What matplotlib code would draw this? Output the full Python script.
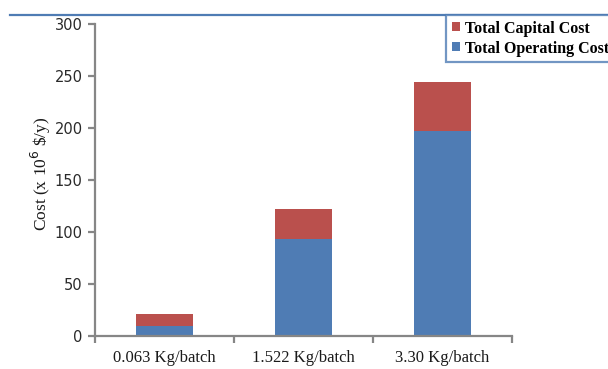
import matplotlib.pyplot as plt
from matplotlib.lines import Line2D

# cost breakdown per batch size (x 10^6 $/y)
batches = ["0.063 Kg/batch", "1.522 Kg/batch", "3.30 Kg/batch"]
operating_cost = [10, 93, 197]
capital_cost = [11, 29, 47]

blue = "#4F7CB4"
red = "#BA504D"
axis_grey = "#868686"
serif = ["Liberation Serif", "DejaVu Serif"]

fig = plt.figure(figsize=(6.08, 3.69), dpi=100)
ax = fig.add_axes([95 / 608, 1 - 336 / 369, 417 / 608, 312 / 369])

x = range(len(batches))
ax.bar(x, operating_cost, width=0.41, color=blue, label="Total Operating Cost", zorder=2)
ax.bar(x, capital_cost, width=0.41, bottom=operating_cost, color=red,
       label="Total Capital Cost", zorder=2)

ax.set_xlim(-0.5, len(batches) - 0.5)
ax.set_ylim(0, 300)
ax.set_yticks(range(0, 301, 50))
ax.set_xticks(list(x))
ax.set_xticklabels(batches, fontsize=12, family=serif, color="#1a1a1a")
ax.set_xticks([i - 0.5 for i in range(len(batches) + 1)], minor=True)

for side in ("top", "right"):
    ax.spines[side].set_visible(False)
for side in ("left", "bottom"):
    ax.spines[side].set_color(axis_grey)
    ax.spines[side].set_linewidth(1.6)

ax.tick_params(axis="x", which="major", length=0, pad=10)
ax.tick_params(axis="x", which="minor", length=5, width=1.6, color=axis_grey, direction="out")
ax.tick_params(axis="y", length=5, width=1.6, color=axis_grey, direction="out",
               labelsize=10.5, labelcolor="#2a2a2a", pad=4)

fig.text(41 / 608, 1 - 174 / 369, r"Cost (x 10$^6$ \$/y)", rotation=90,
         ha="center", va="center", fontsize=12.5, family=serif, color="#1a1a1a")

# rule across the top of the chart area
fig.add_artist(Line2D([10 / 608, 1], [1 - 15 / 369, 1 - 15 / 369],
                      transform=fig.transFigure, color=blue, lw=1.6))

handles, labels = ax.get_legend_handles_labels()
leg = fig.legend(handles[::-1], labels[::-1], loc="upper left",
                 bbox_to_anchor=(446 / 608, 1 - 15 / 369),
                 prop={"family": serif, "size": 11.5, "weight": "bold"},
                 frameon=True, fancybox=False,
                 edgecolor=blue, handlelength=0.5, handleheight=0.5, handletextpad=0.35,
                 borderpad=0.35, labelspacing=0.25, borderaxespad=0)
leg.get_frame().set_linewidth(1.6)

fig.savefig("out.png", dpi=100)
